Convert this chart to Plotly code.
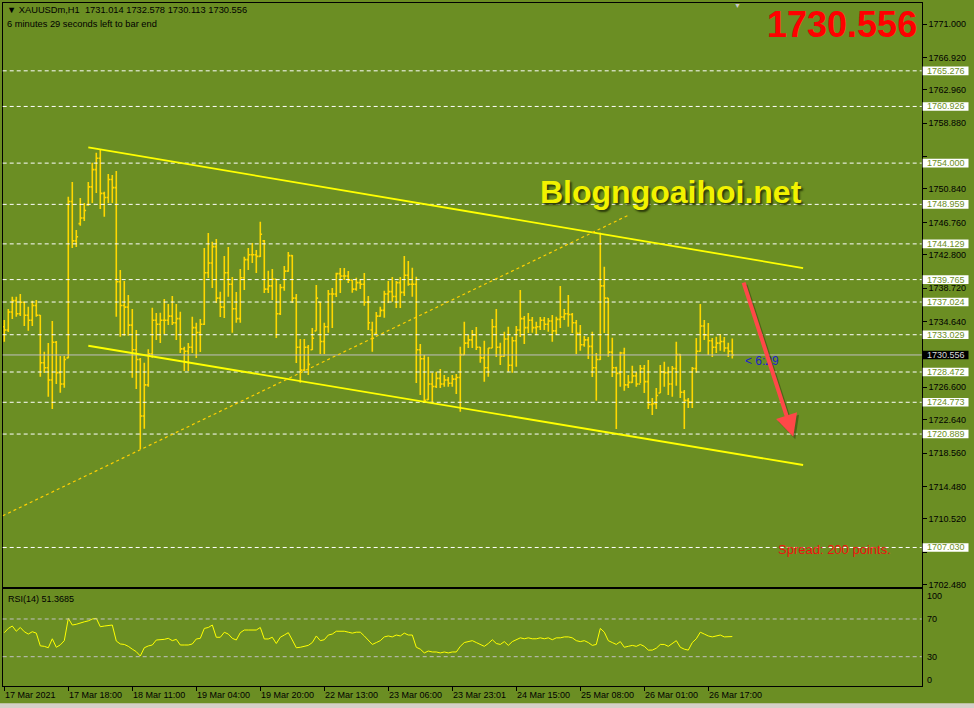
import plotly.graph_objects as go

# ---------------- data ----------------
highs = [1734.83, 1736.17, 1737.68, 1737.68, 1738.00, 1737.07, 1736.45, 1737.19, 1737.27, 1735.44,
         1730.95, 1732.02, 1734.71, 1732.26, 1730.43, 1730.43, 1749.90, 1751.69, 1745.83, 1749.74,
         1749.13, 1751.69, 1754.05, 1755.27, 1755.73, 1750.51, 1752.67, 1752.55, 1753.04, 1740.94,
         1739.59, 1737.88, 1736.17, 1733.61, 1730.19, 1729.61, 1731.26, 1736.33, 1735.68, 1735.72,
         1737.39, 1736.78, 1737.76, 1736.78, 1735.84, 1731.57, 1732.02, 1735.23, 1734.50, 1734.95,
         1743.63, 1745.46, 1744.40, 1744.73, 1738.29, 1742.65, 1743.75, 1740.08, 1738.25, 1741.06,
         1742.56, 1743.63, 1744.24, 1743.38, 1746.84, 1744.60, 1740.85, 1741.06, 1739.84, 1739.23,
         1741.43, 1743.14, 1742.77, 1738.00, 1732.51, 1732.51, 1731.77, 1733.85, 1739.10, 1737.07,
         1734.50, 1738.50, 1738.74, 1740.61, 1741.18, 1741.18, 1740.82, 1739.72, 1740.00, 1739.84,
         1740.57, 1737.76, 1734.62, 1735.81, 1736.45, 1738.41, 1739.59, 1740.08, 1739.59, 1740.08,
         1742.65, 1742.04, 1741.22, 1740.12, 1731.90, 1730.55, 1730.34, 1728.39, 1728.51, 1728.84,
         1728.11, 1727.86, 1728.11, 1728.23, 1731.57, 1734.62, 1732.99, 1733.61, 1733.97, 1731.53,
         1732.30, 1731.41, 1734.95, 1736.17, 1732.05, 1733.40, 1734.01, 1732.79, 1734.10, 1738.50,
         1735.32, 1735.68, 1735.19, 1734.62, 1735.19, 1735.19, 1735.07, 1735.44, 1735.23, 1738.98,
         1736.17, 1737.88, 1735.68, 1734.83, 1734.22, 1732.87, 1732.75, 1733.40, 1730.80, 1745.50,
         1741.34, 1737.52, 1732.66, 1729.12, 1730.95, 1731.44, 1728.11, 1729.24, 1728.51, 1729.33,
         1729.33, 1729.94, 1725.30, 1726.52, 1729.33, 1729.73, 1729.12, 1729.21, 1732.18, 1730.67,
         1726.27, 1725.30, 1729.09, 1732.63, 1736.78, 1734.83, 1734.46, 1732.63, 1732.79, 1733.12,
         1732.75, 1732.05, 1732.578]

lows = [1732.18, 1733.36, 1734.95, 1735.23, 1735.32, 1734.10, 1733.52, 1734.10, 1735.23, 1727.90,
        1728.35, 1725.46, 1723.95, 1727.01, 1725.94, 1726.56, 1730.15, 1743.63, 1743.75, 1746.35,
        1746.93, 1748.80, 1749.13, 1750.35, 1748.39, 1747.45, 1749.13, 1749.13, 1735.23, 1732.79,
        1732.91, 1732.91, 1727.78, 1726.40, 1719.07, 1721.55, 1726.68, 1730.22, 1732.38, 1732.02,
        1733.12, 1734.22, 1734.22, 1732.38, 1730.80, 1728.60, 1728.60, 1730.80, 1730.19, 1730.92,
        1734.22, 1739.96, 1738.74, 1736.91, 1735.19, 1735.07, 1737.68, 1733.28, 1734.50, 1734.50,
        1738.50, 1740.94, 1741.79, 1740.57, 1742.53, 1738.13, 1738.13, 1737.27, 1732.63, 1735.44,
        1738.41, 1740.73, 1736.91, 1729.57, 1727.17, 1728.60, 1728.11, 1731.16, 1733.52, 1730.67,
        1730.67, 1733.28, 1733.85, 1737.64, 1738.13, 1739.72, 1739.35, 1738.16, 1738.41, 1738.62,
        1736.58, 1733.61, 1730.95, 1733.12, 1735.23, 1735.11, 1736.91, 1737.07, 1736.29, 1736.29,
        1737.76, 1739.02, 1737.68, 1727.13, 1725.66, 1724.72, 1725.05, 1724.72, 1726.52, 1726.52,
        1726.68, 1726.68, 1726.68, 1725.78, 1723.62, 1730.55, 1731.41, 1731.41, 1731.16, 1729.61,
        1727.29, 1727.90, 1731.41, 1730.31, 1729.33, 1730.34, 1728.51, 1728.39, 1729.12, 1732.75,
        1731.90, 1733.24, 1733.28, 1732.99, 1733.61, 1733.61, 1733.40, 1732.18, 1732.99, 1733.85,
        1734.83, 1734.01, 1733.24, 1730.67, 1731.08, 1731.57, 1730.06, 1727.86, 1724.97, 1729.94,
        1733.24, 1730.34, 1727.86, 1721.51, 1726.68, 1726.19, 1726.52, 1727.13, 1726.68, 1727.13,
        1725.91, 1723.95, 1723.22, 1723.95, 1725.91, 1726.68, 1725.66, 1725.46, 1726.80, 1725.30,
        1721.51, 1724.08, 1724.08, 1728.39, 1730.95, 1732.38, 1730.55, 1730.31, 1730.80, 1731.08,
        1730.95, 1730.31, 1730.113]

opens = [1734.0, 1733.6, 1735.8, 1737.2, 1735.6, 1737.0, 1735.4, 1734.8, 1736.6, 1735.4,
         1729.6, 1729.0, 1727.5, 1732.1, 1728.4, 1727.0, 1730.2, 1749.3, 1744.5, 1746.6,
         1747.3, 1748.9, 1751.1, 1753.2, 1754.6, 1750.3, 1749.8, 1752.0, 1751.0, 1739.5,
         1736.6, 1736.4, 1734.2, 1731.2, 1730.0, 1723.1, 1726.9, 1730.7, 1734.8, 1734.3,
         1734.8, 1734.8, 1735.3, 1734.5, 1735.0, 1731.3, 1731.0, 1731.5, 1733.9, 1733.3,
         1734.3, 1740.6, 1741.8, 1743.8, 1737.5, 1736.4, 1740.6, 1739.2, 1736.2, 1735.0,
         1740.0, 1742.2, 1742.8, 1742.8, 1742.6, 1744.5, 1738.6, 1739.0, 1739.8, 1735.6,
         1738.8, 1740.8, 1742.7, 1737.5, 1731.5, 1728.7, 1731.5, 1731.2, 1733.5, 1737.0,
         1732.2, 1734.0, 1738.0, 1738.0, 1740.5, 1740.2, 1740.2, 1739.7, 1738.6, 1739.4,
         1739.2, 1737.0, 1733.6, 1733.2, 1735.3, 1736.0, 1738.0, 1738.3, 1737.7, 1739.4,
         1738.2, 1740.3, 1739.2, 1739.2, 1731.2, 1730.1, 1725.1, 1727.0, 1726.7, 1727.7,
         1727.0, 1727.5, 1727.1, 1727.6, 1727.8, 1730.6, 1732.0, 1732.4, 1733.0, 1731.5,
         1730.2, 1729.0, 1731.4, 1734.0, 1731.5, 1730.4, 1732.5, 1729.3, 1732.3, 1733.6,
         1735.0, 1733.9, 1734.8, 1733.9, 1734.0, 1734.8, 1734.3, 1734.7, 1733.5, 1734.9,
         1735.2, 1735.6, 1735.5, 1734.5, 1733.2, 1731.8, 1732.4, 1731.6, 1729.0, 1730.0,
         1739.0, 1737.5, 1730.9, 1729.0, 1728.3, 1730.8, 1726.9, 1727.2, 1728.0, 1727.0,
         1728.9, 1727.3, 1724.5, 1724.6, 1725.9, 1728.5, 1728.4, 1727.0, 1728.9, 1730.6,
         1726.0, 1725.0, 1724.8, 1728.9, 1731.0, 1734.1, 1733.0, 1732.3, 1731.5, 1732.0,
         1732.2, 1731.4, 1731.014]

closes = [1733.6, 1735.8, 1737.2, 1735.6, 1737.0, 1735.4, 1734.8, 1736.6, 1735.4, 1729.6,
          1729.0, 1727.5, 1732.1, 1728.4, 1727.0, 1730.0, 1749.3, 1744.5, 1745.0, 1747.3,
          1748.2, 1751.1, 1753.2, 1754.6, 1750.3, 1749.8, 1752.0, 1751.0, 1739.5, 1736.6,
          1736.4, 1734.2, 1731.2, 1730.0, 1723.1, 1726.9, 1730.7, 1734.8, 1734.3, 1734.8,
          1734.8, 1735.3, 1734.5, 1735.0, 1731.3, 1731.0, 1731.5, 1733.9, 1733.3, 1734.3,
          1740.6, 1741.8, 1743.8, 1737.5, 1736.4, 1740.6, 1739.2, 1736.2, 1735.0, 1740.0,
          1742.2, 1742.8, 1742.8, 1742.6, 1745.3, 1738.6, 1739.0, 1739.8, 1735.6, 1738.8,
          1740.8, 1742.7, 1737.5, 1731.5, 1728.7, 1731.5, 1729.4, 1732.6, 1737.5, 1732.2,
          1734.0, 1738.0, 1738.0, 1740.5, 1740.2, 1740.2, 1739.7, 1738.6, 1739.4, 1739.2,
          1737.0, 1734.5, 1732.6, 1735.3, 1736.0, 1738.0, 1738.3, 1737.7, 1739.4, 1738.2,
          1740.3, 1739.2, 1739.2, 1731.2, 1730.1, 1725.0, 1727.0, 1726.7, 1727.7, 1727.0,
          1727.5, 1727.1, 1727.6, 1727.8, 1730.6, 1732.0, 1732.4, 1733.0, 1731.5, 1730.2,
          1729.0, 1731.4, 1734.0, 1731.5, 1730.4, 1732.5, 1729.3, 1732.3, 1733.6, 1735.0,
          1733.9, 1734.8, 1733.9, 1734.0, 1734.8, 1734.3, 1734.7, 1733.5, 1734.9, 1735.2,
          1735.6, 1735.5, 1734.5, 1733.2, 1731.8, 1732.4, 1731.6, 1729.0, 1730.0, 1739.0,
          1737.5, 1730.9, 1729.0, 1728.3, 1730.8, 1726.9, 1727.2, 1728.0, 1727.0, 1728.9,
          1727.3, 1724.5, 1724.6, 1725.6, 1728.5, 1728.4, 1727.0, 1728.9, 1730.6, 1726.0,
          1725.0, 1724.8, 1728.9, 1731.0, 1734.1, 1733.0, 1732.3, 1731.5, 1732.0, 1732.2,
          1731.4, 1731.0, 1730.556]

rsi = [55.5, 60, 62.5, 57, 61, 56.5, 54, 56.5, 55, 41.5,
       41, 39.5, 49, 40, 42.5, 47, 70.7, 63.6, 64.4, 66,
       67, 68, 70, 70.7, 61.8, 62.5, 63, 63.6, 46.6, 43.5,
       43, 41, 38, 35.3, 30.7, 39.5, 41.4, 42.4, 47.7, 47.7,
       48.4, 49.5, 47, 48.4, 42.4, 42.4, 42.4, 43.5, 48.8, 49.5,
       60, 61, 63.6, 50.6, 50.6, 55.9, 54, 49.5, 47.7, 55.5,
       58.3, 58.3, 58.3, 58.3, 61, 48.8, 48.8, 50.6, 44, 50.6,
       53, 55.5, 47.7, 39.5, 40, 41, 42, 45, 52, 47,
       48, 53, 54, 57, 57, 57, 56, 55, 56, 56,
       52, 47, 43, 45, 47, 51, 52, 51, 53, 52,
       55, 53, 53, 40, 38, 34, 36, 35, 35, 34,
       35, 34, 35, 35, 41, 45, 46, 47, 45, 43,
       41, 44, 48, 44, 43, 46, 42, 46, 48, 50,
       49, 50, 49, 49, 50, 49, 50, 48, 50, 50,
       51, 51, 50, 47, 46, 47, 45, 42, 43, 60,
       56, 47, 45, 43, 46, 40, 41, 42, 41, 43,
       41, 37, 37, 39, 43, 43, 41, 44, 47, 40,
       38, 37, 45, 49, 56, 54, 52, 51, 52, 53,
       51, 51, 51.3685]

time_labels = ["17 Mar 2021", "17 Mar 18:00", "18 Mar 11:00", "19 Mar 04:00", "19 Mar 20:00",
               "22 Mar 13:00", "23 Mar 06:00", "23 Mar 23:01", "24 Mar 15:00", "25 Mar 08:00",
               "26 Mar 01:00", "26 Mar 17:00"]
time_label_bars = [0, 16, 32, 48, 64, 80, 96, 112, 128, 144, 160, 176]

price_ticks = [1771.000, 1766.920, 1762.960, 1758.880, 1754.800, 1750.840, 1746.760, 1742.800,
               1738.720, 1734.640, 1730.680, 1726.600, 1722.640, 1718.560, 1714.480, 1710.520,
               1706.440, 1702.480]
# tick labels hidden behind price-label boxes in the reference
hidden_tick_labels = [1754.800, 1730.680, 1706.440]

level_prices = [1765.276, 1760.926, 1754.000, 1748.959, 1744.129, 1739.765, 1737.024,
                1733.029, 1728.472, 1724.773, 1720.889, 1707.030]
bid_price = 1730.556

# drawn objects (bar index, price)
upper_trend = [(21.0, 1755.93), (199.7, 1741.18)]
lower_trend = [(21.0, 1731.68), (199.7, 1717.11)]
dotted_trend = [(-0.4, 1710.90), (155.9, 1747.60)]
arrow_tail = (184.7, 1739.59)
arrow_head = (197.25, 1720.57)

bars = list(range(len(closes)))

# ---------------- layout constants ----------------
W, H = 974, 708
BG = "#6B8E23"
GOLD = "#FFD700"
FONT = "Liberation Sans, Arial, sans-serif"

X_DOM = [2.7 / W, 921.7 / W]
X_RANGE = [-0.4, 229.35]
MAIN_DOM = [1 - 586.7 / H, 1 - 2.7 / H]
MAIN_RANGE = [1702.236, 1773.603]
RSI_DOM = [1 - 685.7 / H, 1 - 589.3 / H]
RSI_RANGE = [-0.77, 101.5]


def py_main(p):
    return MAIN_DOM[0] + (p - MAIN_RANGE[0]) / (MAIN_RANGE[1] - MAIN_RANGE[0]) * (MAIN_DOM[1] - MAIN_DOM[0])


def ppx(y):
    return 1 - y / H


fig = go.Figure()

fig.add_trace(go.Ohlc(
    x=bars, open=opens, high=highs, low=lows, close=closes,
    increasing=dict(line=dict(color=GOLD, width=1.6)),
    decreasing=dict(line=dict(color=GOLD, width=1.6)),
    tickwidth=0.45, xaxis="x", yaxis="y", hoverinfo="skip", showlegend=False))

fig.add_trace(go.Scatter(
    x=bars, y=rsi, mode="lines", line=dict(color="#FFFF00", width=1),
    xaxis="x2", yaxis="y2", hoverinfo="skip", showlegend=False))

shapes = []
for lv in level_prices:
    shapes.append(dict(type="line", xref="x domain", yref="y", x0=0, x1=1, y0=lv, y1=lv,
                       line=dict(color="white", width=1, dash="4px,3px")))
shapes.append(dict(type="line", xref="x domain", yref="y", x0=0, x1=1, y0=bid_price, y1=bid_price,
                   line=dict(color="#C0C0C0", width=1)))
for pts, dash, wd, col in [(upper_trend, "solid", 1.8, "#FFFF00"),
                           (lower_trend, "solid", 1.8, "#FFFF00"),
                           (dotted_trend, "3px,3px", 1.2, "#FFD000")]:
    shapes.append(dict(type="line", xref="x", yref="y", x0=pts[0][0], y0=pts[0][1],
                       x1=pts[1][0], y1=pts[1][1], line=dict(color=col, width=wd, dash=dash)))
for lv in [70, 30]:
    shapes.append(dict(type="line", xref="x2 domain", yref="y2", x0=0, x1=1, y0=lv, y1=lv,
                       line=dict(color="#C0C0C0", width=1, dash="4px,3px")))

annotations = []
half = 4.3 / H * (MAIN_RANGE[1] - MAIN_RANGE[0]) / (MAIN_DOM[1] - MAIN_DOM[0])
for lv, bgc, fc in [(v, "white", BG) for v in level_prices] + [(bid_price, "black", "#D8D8D8")]:
    shapes.append(dict(type="rect", xref="paper", yref="paper", x0=922.7 / W, x1=968.5 / W,
                       y0=py_main(lv - half), y1=py_main(lv + half), fillcolor=bgc,
                       line=dict(width=0), layer="above"))
    annotations.append(dict(text=f"{lv:.3f}", xref="paper", yref="paper", x=945.6 / W,
                            y=py_main(lv), xanchor="center", yanchor="middle", showarrow=False,
                            font=dict(family=FONT, size=9, color=fc)))

shapes.append(dict(type="rect", xref="paper", yref="paper", x0=0, x1=1, y0=0, y1=4.7 / H,
                   fillcolor="#D4D0C8", line=dict(width=0), layer="above"))

for lab, b in zip(time_labels, time_label_bars):
    annotations.append(dict(text=lab, xref="x2", yref="paper", x=b - 0.3, y=ppx(695),
                            xanchor="left", yanchor="middle", showarrow=False,
                            font=dict(family=FONT, size=9, color="black")))

for lab, yy in [("100", 596), ("70", 619), ("30", 657), ("0", 679.5)]:
    annotations.append(dict(text=lab, xref="paper", yref="paper", x=924.5 / W, y=ppx(yy),
                            xanchor="left", yanchor="middle", showarrow=False,
                            font=dict(family=FONT, size=9, color="black")))

annotations += [
    dict(text="▼ XAUUSDm,H1&nbsp;&nbsp;1731.014 1732.578 1730.113 1730.556", xref="paper", yref="paper",
         x=5 / W, y=ppx(10), xanchor="left", yanchor="middle", showarrow=False,
         font=dict(family=FONT, size=9.3, color="black")),
    dict(text="6 minutes 29 seconds left to bar end", xref="paper", yref="paper",
         x=5 / W, y=ppx(24), xanchor="left", yanchor="middle", showarrow=False,
         font=dict(family=FONT, size=9.3, color="black")),
    dict(text="RSI(14) 51.3685", xref="paper", yref="paper",
         x=6 / W, y=ppx(599), xanchor="left", yanchor="middle", showarrow=False,
         font=dict(family=FONT, size=9, color="black")),
    dict(text="▼", xref="paper", yref="paper", x=737 / W, y=ppx(5), xanchor="center",
         yanchor="middle", showarrow=False, font=dict(family=FONT, size=7, color="#C8C8C8")),
    dict(text="1730.556", xref="paper", yref="paper", x=842 / W, y=ppx(25), xanchor="center",
         yanchor="middle", showarrow=False,
         font=dict(family=FONT, size=36, color="#FF0000", weight="bold")),
    dict(text="Blogngoaihoi.net", xref="paper", yref="paper", x=670.5 / W, y=ppx(192),
         xanchor="center", yanchor="middle", showarrow=False,
         font=dict(family=FONT, size=32, color="#F2F200", weight="bold",
                   shadow="2px 2px 2px #2A3A08")),
    dict(text="Spread: 200 points.", xref="paper", yref="paper", x=776 / W, y=ppx(549),
         xanchor="left", yanchor="middle", showarrow=False,
         font=dict(family=FONT, size=13, color="#F01010")),
    dict(text="< 6:29", xref="paper", yref="paper", x=743 / W, y=ppx(361),
         xanchor="left", yanchor="middle", showarrow=False,
         font=dict(family=FONT, size=12, color="#1E1ECC")),
    dict(x=arrow_head[0] + 0.5, y=arrow_head[1] - 0.3, ax=arrow_tail[0] + 0.5, ay=arrow_tail[1] - 0.3,
         xref="x", yref="y", axref="x", ayref="y", text="", showarrow=True,
         arrowhead=2, arrowsize=1.1, arrowwidth=4, arrowcolor="rgba(40,55,10,0.45)"),
    dict(x=arrow_head[0], y=arrow_head[1], ax=arrow_tail[0], ay=arrow_tail[1],
         xref="x", yref="y", axref="x", ayref="y", text="", showarrow=True,
         arrowhead=2, arrowsize=1.1, arrowwidth=4, arrowcolor="#FF4848"),
]

axis_common = dict(showgrid=False, zeroline=False, showline=True, linecolor="black",
                   linewidth=1, mirror=True, automargin=False)

fig.update_layout(
    width=W, height=H, margin=dict(l=0, r=0, t=0, b=0, pad=0),
    paper_bgcolor=BG, plot_bgcolor=BG, showlegend=False,
    font=dict(family=FONT, size=9, color="black"),
    xaxis=dict(domain=X_DOM, range=X_RANGE, anchor="y", showticklabels=False, ticks="",
               rangeslider=dict(visible=False), **axis_common),
    yaxis=dict(domain=MAIN_DOM, range=MAIN_RANGE, anchor="x", side="right",
               tickvals=price_ticks,
               ticktext=["" if v in hidden_tick_labels else f"{v:.3f}" for v in price_ticks],
               ticks="outside", ticklen=4, tickcolor="black",
               tickfont=dict(family=FONT, size=9, color="black"), **axis_common),
    xaxis2=dict(domain=X_DOM, range=X_RANGE, anchor="y2", tickvals=time_label_bars,
                showticklabels=False, ticks="outside", ticklen=4, tickcolor="black", **axis_common),
    yaxis2=dict(domain=RSI_DOM, range=RSI_RANGE, anchor="x2", showticklabels=False, ticks="",
                **axis_common),
    shapes=shapes, annotations=annotations,
)

fig.write_html("out.html",
               config={"displayModeBar": False, "staticPlot": True},
               post_script="document.body.style.margin='0px';document.body.style.padding='0px';"
                           "document.body.style.overflow='hidden';")
